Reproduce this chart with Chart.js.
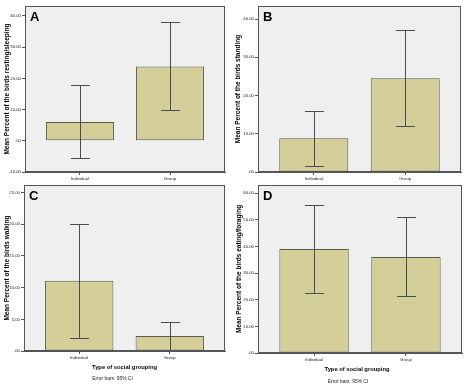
<!DOCTYPE html>
<html><head><meta charset="utf-8">
<script src="https://cdn.jsdelivr.net/npm/chart.js@4.4.1/dist/chart.umd.min.js"></script>
<style>
html,body{margin:0;padding:0;background:#fff;width:466px;height:392px;overflow:hidden}
canvas{position:absolute;display:block}
</style></head><body>
<canvas id="cA" width="233" height="186" style="left:0;top:0"></canvas>
<canvas id="cB" width="233" height="186" style="left:233px;top:0"></canvas>
<canvas id="cC" width="233" height="212" style="left:0;top:180px"></canvas>
<canvas id="cD" width="233" height="212" style="left:233px;top:180px"></canvas>
<script>
// ---- data ----
const categories = ['Individual', 'Group'];
const panelLetters = ['A', 'B', 'C', 'D'];
const yTitles = [
  'Mean Percent of the birds resting/sleeping',
  'Mean Percent of the birds standing',
  'Mean Percent of the birds walking',
  'Mean Percent of the birds eating/foraging'
];
const xTitle = 'Type of social grouping';
const footNote = 'Error bars: 95% CI';

const restingMean = [6.0, 23.8];
const restingLow  = [-5.6, 9.9];
const restingHigh = [18.0, 38.0];

const standingMean = [8.8, 24.5];
const standingLow  = [1.5, 11.9];
const standingHigh = [16.0, 37.0];

const walkingMean = [11.1, 2.35];
const walkingLow  = [2.0, 0.15];
const walkingHigh = [20.1, 4.6];

const eatingMean = [39.0, 36.0];
const eatingLow  = [22.5, 21.2];
const eatingHigh = [55.4, 50.9];

const ticksA = [-10, 0, 10, 20, 30, 40];
const ticksB = [0, 10, 20, 30, 40];
const ticksC = [0, 5, 10, 15, 20, 25];
const ticksD = [0, 10, 20, 30, 40, 50, 60];

// ---- rendering ----
Chart.defaults.font.family = "'Liberation Sans', Arial, sans-serif";
const AX = '#555555';

const panelPlugin = {
  id: 'panel',
  beforeDraw(chart) {
    const {ctx, chartArea: a} = chart;
    ctx.save();
    ctx.fillStyle = '#efefef';
    ctx.fillRect(a.left, a.top, a.right - a.left, a.bottom - a.top);
    ctx.restore();
  },
  afterDatasetsDraw(chart, args, o) {
    const {ctx} = chart;
    const ys = chart.scales.y;
    const meta = chart.getDatasetMeta(0);
    ctx.save();
    ctx.strokeStyle = '#4d4d4d';
    ctx.lineWidth = 1;
    meta.data.forEach((bar, i) => {
      const x = Math.round(bar.x) + 0.5;
      const y1 = Math.round(ys.getPixelForValue(o.low[i])) + 0.5;
      const y2 = Math.round(ys.getPixelForValue(o.high[i])) + 0.5;
      ctx.beginPath();
      ctx.moveTo(x, y1); ctx.lineTo(x, y2);
      ctx.moveTo(x - 9.5, y1); ctx.lineTo(x + 9.5, y1);
      ctx.moveTo(x - 9.5, y2); ctx.lineTo(x + 9.5, y2);
      ctx.stroke();
    });
    ctx.restore();
  },
  afterDraw(chart, args, o) {
    const {ctx, chartArea: a} = chart;
    ctx.save();
    ctx.strokeStyle = AX;
    ctx.lineWidth = 1;
    ctx.strokeRect(Math.round(a.left) + 0.5, Math.round(a.top) + 0.5,
                   Math.round(a.right - a.left) - 1, Math.round(a.bottom - a.top) - 1);
    ctx.fillStyle = '#000';
    ctx.font = "bold 13px 'Liberation Sans', Arial, sans-serif";
    ctx.textBaseline = 'alphabetic';
    ctx.textAlign = 'left';
    ctx.fillText(o.letter, a.left + 5, a.top + 14.5);
    if (o.xTitle) {
      const cx = (a.left + a.right) / 2;
      ctx.textAlign = 'center';
      ctx.textBaseline = 'middle';
      ctx.font = "bold 5.8px 'Liberation Sans', Arial, sans-serif";
      ctx.fillText(o.xTitle, cx + o.titleDx, a.bottom + 16);
      ctx.font = "4.9px 'Liberation Sans', Arial, sans-serif";
      ctx.fillStyle = '#222';
      ctx.fillText(o.note, cx - 12, a.bottom + o.noteDy);
    }
    ctx.restore();
  }
};

const fmt = v => (v === 0 ? '.00' : v.toFixed(2));

function makePanel(id, p) {
  new Chart(document.getElementById(id), {
    type: 'bar',
    data: {
      datasets: [{
        data: p.mean.map((v, i) => ({x: i, y: v})),
        backgroundColor: '#d4cf99',
        borderColor: '#5a5a4c',
        borderWidth: 1,
        borderSkipped: false,
        categoryPercentage: 1,
        barPercentage: 0.755
      }]
    },
    options: {
      responsive: false,
      animation: false,
      devicePixelRatio: 1,
      layout: {padding: {left: 0, top: p.top, right: p.right, bottom: 0}},
      plugins: {
        legend: {display: false},
        tooltip: {enabled: false},
        panel: {letter: p.letter, low: p.low, high: p.high, xTitle: p.xTitle,
                note: p.note, titleDx: p.titleDx || 0, noteDy: p.noteDy || 28}
      },
      scales: {
        x: {
          type: 'linear', min: -0.61, max: 1.61, offset: false,
          afterBuildTicks: s => { s.ticks = categories.map((c, i) => ({value: i})); },
          ticks: {callback: (v, i) => categories[i], font: {size: 4.3}, color: '#222',
                  padding: 1, maxRotation: 0, autoSkip: false},
          grid: {drawOnChartArea: false, tickLength: 3, color: AX, offset: false},
          border: {color: AX},
          afterFit: s => { s.height = p.xh; }
        },
        y: {
          min: p.min, max: p.max,
          afterBuildTicks: s => { s.ticks = p.ticks.map(v => ({value: v})); },
          ticks: {callback: v => fmt(v), font: {size: 4.3}, color: '#222', padding: 1},
          grid: {drawOnChartArea: false, tickLength: 3, color: AX},
          border: {color: AX},
          title: {display: true, text: p.yTitle, color: '#000',
                  font: {size: 6.5, weight: 'bold'}, padding: {top: p.tpad, bottom: 0}},
          afterFit: s => { s.width = p.yw; }
        }
      }
    },
    plugins: [panelPlugin]
  });
}

makePanel('cA', {mean: restingMean, low: restingLow, high: restingHigh, ticks: ticksA,
  min: -10, max: 43.2, letter: panelLetters[0], yTitle: yTitles[0],
  top: 6, right: 8, yw: 25, xh: 14, tpad: 3});
makePanel('cB', {mean: standingMean, low: standingLow, high: standingHigh, ticks: ticksB,
  min: 0, max: 43.4, letter: panelLetters[1], yTitle: yTitles[1],
  top: 6, right: 5, yw: 25, xh: 14, tpad: 1});
makePanel('cC', {mean: walkingMean, low: walkingLow, high: walkingHigh, ticks: ticksC,
  min: 0, max: 26.2, letter: panelLetters[2], yTitle: yTitles[2],
  top: 5, right: 8, yw: 24, xh: 41, tpad: 3.5, xTitle: xTitle, note: footNote,
  titleDx: 0, noteDy: 28});
makePanel('cD', {mean: eatingMean, low: eatingLow, high: eatingHigh, ticks: ticksD,
  min: 0, max: 63, letter: panelLetters[3], yTitle: yTitles[3],
  top: 5, right: 4, yw: 25, xh: 39, tpad: 2, xTitle: xTitle, note: footNote,
  titleDx: -3, noteDy: 29});
</script>
</body></html>
